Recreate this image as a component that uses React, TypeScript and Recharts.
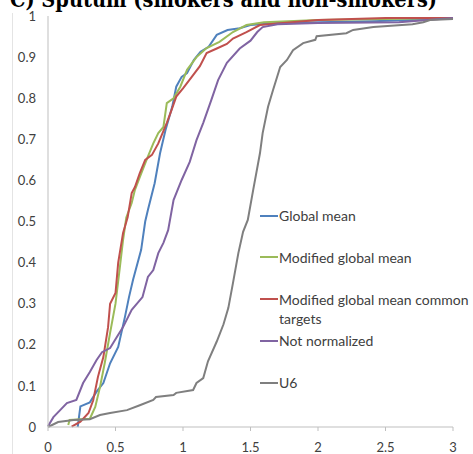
import React from "react"
import { LineChart, Line, XAxis, YAxis, Legend } from "recharts"

const xTicks = [0, 0.5, 1, 1.5, 2, 2.5, 3]
const yTicks = [0, 0.1, 0.2, 0.3, 0.4, 0.5, 0.6, 0.7, 0.8, 0.9, 1]

const globalX = [0.22, 0.23, 0.24, 0.31, 0.36, 0.41, 0.46, 0.52, 0.57, 0.6, 0.63, 0.69, 0.72, 0.74, 0.79, 0.83, 0.87, 0.92, 0.95, 0.99, 1.03, 1.08, 1.13, 1.19, 1.25, 1.33, 1.42, 1.5, 1.7, 2.0, 2.4, 2.7, 3.0]
const globalY = [0.0, 0.025, 0.05, 0.06, 0.086, 0.107, 0.155, 0.195, 0.268, 0.316, 0.358, 0.431, 0.5, 0.528, 0.593, 0.666, 0.722, 0.779, 0.828, 0.852, 0.861, 0.893, 0.913, 0.925, 0.954, 0.966, 0.97, 0.978, 0.983, 0.985, 0.987, 0.99, 0.995]

const modX = [0.15, 0.16, 0.31, 0.35, 0.385, 0.42, 0.46, 0.5, 0.53, 0.556, 0.58, 0.62, 0.644, 0.68, 0.73, 0.78, 0.817, 0.855, 0.88, 0.93, 0.98, 1.03, 1.1, 1.175, 1.27, 1.37, 1.47, 1.6, 2.0, 2.5, 3.0]
const modY = [0.005, 0.017, 0.02, 0.049, 0.097, 0.155, 0.229, 0.3, 0.382, 0.455, 0.51, 0.545, 0.577, 0.608, 0.65, 0.69, 0.715, 0.73, 0.788, 0.8, 0.828, 0.869, 0.9, 0.922, 0.937, 0.961, 0.978, 0.985, 0.99, 0.993, 0.995]

const commonX = [0.175, 0.24, 0.3, 0.335, 0.37, 0.41, 0.445, 0.46, 0.5, 0.52, 0.556, 0.59, 0.62, 0.644, 0.68, 0.72, 0.77, 0.817, 0.88, 0.915, 0.95, 1.0, 1.065, 1.125, 1.175, 1.25, 1.325, 1.37, 1.47, 1.57, 2.0, 2.5, 3.0]
const commonY = [0.001, 0.013, 0.034, 0.065, 0.122, 0.17, 0.243, 0.3, 0.326, 0.4, 0.472, 0.51, 0.569, 0.584, 0.618, 0.65, 0.662, 0.69, 0.74, 0.771, 0.804, 0.824, 0.852, 0.878, 0.91, 0.921, 0.932, 0.945, 0.961, 0.978, 0.99, 0.995, 0.995]

const rawX = [0, 0.04, 0.09, 0.14, 0.21, 0.26, 0.31, 0.36, 0.4, 0.46, 0.51, 0.556, 0.62, 0.7, 0.74, 0.78, 0.817, 0.855, 0.89, 0.93, 0.99, 1.05, 1.1, 1.15, 1.21, 1.26, 1.325, 1.42, 1.5, 1.55, 1.59, 1.7, 2.0, 2.6, 3.0]
const rawY = [0.002, 0.024, 0.041, 0.058, 0.066, 0.107, 0.134, 0.163, 0.182, 0.192, 0.219, 0.243, 0.285, 0.316, 0.365, 0.382, 0.423, 0.448, 0.479, 0.552, 0.601, 0.645, 0.698, 0.74, 0.796, 0.844, 0.886, 0.921, 0.94, 0.961, 0.973, 0.98, 0.983, 0.985, 0.995]

const u6X = [0, 0.075, 0.19, 0.31, 0.385, 0.46, 0.585, 0.68, 0.78, 0.8, 0.93, 0.95, 1.075, 1.1, 1.15, 1.185, 1.25, 1.3, 1.336, 1.37, 1.41, 1.445, 1.48, 1.52, 1.57, 1.59, 1.63, 1.667, 1.72, 1.77, 1.815, 1.89, 1.98, 1.99, 2.21, 2.26, 2.41, 2.7, 2.78, 2.83, 3.0]
const u6Y = [0, 0.012, 0.017, 0.019, 0.029, 0.034, 0.041, 0.053, 0.066, 0.073, 0.078, 0.083, 0.09, 0.107, 0.119, 0.16, 0.208, 0.25, 0.29, 0.35, 0.423, 0.475, 0.504, 0.577, 0.666, 0.715, 0.779, 0.82, 0.876, 0.893, 0.917, 0.934, 0.942, 0.951, 0.958, 0.966, 0.973, 0.98, 0.985, 0.99, 0.993]

const toPoints = (xs: number[], ys: number[]) => xs.map((x, i) => ({ x, y: ys[i] }))

const series = [
  { name: "Global mean", color: "#4f81bd", data: toPoints(globalX, globalY) },
  { name: "Modified global mean", color: "#9bbb59", data: toPoints(modX, modY) },
  { name: "Modified global mean common targets", color: "#c0504d", data: toPoints(commonX, commonY) },
  { name: "Not normalized", color: "#8064a2", data: toPoints(rawX, rawY) },
  { name: "U6", color: "#7f7f7f", data: toPoints(u6X, u6Y) },
]

const FONT = "Lato, 'Open Sans', sans-serif"
const TEXT = "#404040"

const renderLegend = (props: any) => {
  const { payload } = props
  return (
    <div style={{ fontFamily: FONT, fontSize: 14, color: TEXT }}>
      {payload.map((entry: any, i: number) => {
        const name: string = entry.value
        let lines = [name]
        if (name.length > 28) {
          const cut = name.lastIndexOf(" ")
          lines = [name.slice(0, cut), name.slice(cut + 1)]
        }
        return (
          <div key={`leg-${i}`} style={{ position: "relative", height: 41.8, lineHeight: "19px" }}>
            <div style={{ position: "absolute", left: 0, top: 8.5, width: 18, height: 2, background: entry.color }} />
            <div style={{ marginLeft: 19, whiteSpace: "nowrap" }}>
              {lines.map((l, j) => (
                <div key={j}>{l}</div>
              ))}
            </div>
          </div>
        )
      })}
    </div>
  )
}

export default function App() {
  return (
    <div style={{ position: "absolute", left: 0, top: 0, width: 473, height: 454, background: "#fff", overflow: "hidden" }}>
      {/* faint chart-area border on the left */}
      <div style={{ position: "absolute", left: 12, top: 13, width: 1, height: 441, background: "#e4e4e4" }} />
      <svg width={473} height={30} style={{ position: "absolute", left: 0, top: 0 }}>
        <text
          x={10}
          y={7}
          fontFamily="'DejaVu Serif', serif"
          fontWeight="bold"
          fontSize={22}
          fill="#000"
          textLength={427}
          lengthAdjust="spacingAndGlyphs"
        >
          C) Sputum (smokers and non-smokers)
        </text>
      </svg>
      <div style={{ position: "absolute", left: 0, top: 0 }}>
        <LineChart width={473} height={454} margin={{ top: 16, right: 20, bottom: 7, left: 8 }}>
          <XAxis
            type="number"
            dataKey="x"
            domain={[0, 3]}
            ticks={xTicks}
            allowDuplicatedCategory={false}
            height={20}
            stroke="#bfbfbf"
            tickSize={4}
            tickMargin={12}
            tick={{ fontSize: 13, fontFamily: FONT, fill: TEXT }}
          />
          <YAxis
            type="number"
            domain={[0, 1]}
            ticks={yTicks}
            width={40}
            stroke="#bfbfbf"
            tickLine={false}
            tickSize={0}
            tickMargin={12}
            tick={{ fontSize: 13, fontFamily: FONT, fill: TEXT }}
          />
          <Legend
            layout="vertical"
            align="center"
            verticalAlign="middle"
            content={renderLegend}
            wrapperStyle={{ left: 260, top: 206, width: 213 }}
          />
          {series.map((s) => (
            <Line
              key={s.name}
              data={s.data}
              dataKey="y"
              name={s.name}
              type="linear"
              stroke={s.color}
              strokeWidth={2}
              dot={false}
              activeDot={false}
              isAnimationActive={false}
            />
          ))}
        </LineChart>
      </div>
    </div>
  )
}
